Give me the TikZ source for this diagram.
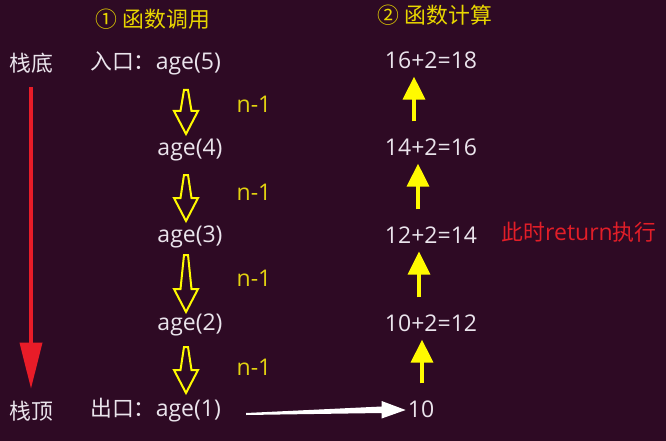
\documentclass[tikz,border=0pt]{standalone}
\usepackage{fontspec}
\setmainfont{Open Sans}
\newfontfamily\cjk[Scale=0.95]{Noto Sans CJK SC}
\usetikzlibrary{arrows.meta,calc}

\definecolor{bgpurple}{RGB}{46,10,36}
\definecolor{textwhite}{RGB}{234,228,236}
\definecolor{headyellow}{RGB}{232,214,0}
\definecolor{stepyellow}{RGB}{226,210,16}
\definecolor{arrowyellow}{RGB}{255,250,0}
\definecolor{stackred}{RGB}{232,28,40}
\definecolor{notered}{RGB}{226,30,40}

\tikzset{
	txt/.style={text=textwhite, inner sep=3pt},
	heading/.style={text=headyellow, inner sep=3pt},
	decr/.style={text=stepyellow, inner sep=3pt},
	remark/.style={text=notered, inner sep=3pt},
	uparrow/.style={draw=arrowyellow, line width=3.5pt, -{Triangle[width=22pt,length=23pt]}, shorten <=14pt, shorten >=5pt},
	stackarrow/.style={draw=stackred, line width=3.5pt, -{Triangle[width=22pt,length=46pt]}, shorten <=11pt, shorten >=9pt},
	hollow/.style={draw=arrowyellow, line width=2pt, line join=miter},
}

\begin{document}
\begin{tikzpicture}[x=1pt, y=-1pt, font=\fontsize{23}{27}\selectfont]
		\fill [bgpurple] (0,0) rectangle (666,441);

		% titles
		\node [heading] (call) at (153,19) {\cjk ① 函数调用};
		\node [heading] (calc) at (435,15) {\cjk ② 函数计算};

		% stack direction
		\node [txt] (base) at (31,63) {\cjk 栈底};
		\node [txt] (top) at (31,411) {\cjk 栈顶};
		\draw [stackarrow] (base) -- (top);

		% calls
		\node [txt, anchor=west] (a5) at (87,63) {{\cjk 入口：}age(5)};
		\node [txt] (a4) at (190,150) {age(4)};
		\node [txt] (a3) at (190,237) {age(3)};
		\node [txt] (a2) at (190,325) {age(2)};
		\node [txt, anchor=west] (a1) at (87,410) {{\cjk 出口：}age(1)};

		\foreach \t/\b in {90/134,175/221,255/312,347/393}
			\draw [hollow] (184,\t) -- (188,\t) -- (191.5,\b-23) -- (198,\b-23) -- (186,\b) -- (174,\b-23) -- (180.5,\b-23) -- cycle;

		\foreach \y [count=\i] in {104,192,278,367}
			\node [decr] (m\i) at (254,\y) {n-1};

		% results
		\node [txt] (r5) at (431,60) {16+2=18};
		\node [txt] (r4) at (431,147) {14+2=16};
		\node [txt] (r3) at (431,235) {12+2=14};
		\node [txt] (r2) at (431,323) {10+2=12};
		\node [txt] (r1) at (421,409) {10};

		\draw [uparrow] ([xshift=-17pt]r4.north) -- ([xshift=-17pt]r5.south);
		\draw [uparrow] ([xshift=-13pt]r3.north) -- ([xshift=-13pt]r4.south);
		\draw [uparrow] ([xshift=-12pt]r2.north) -- ([xshift=-12pt]r3.south);
		\draw [uparrow] ([xshift=1pt]r1.north) -- ([xshift=-9pt]r2.south);

		\node [remark] (ret) at (579,232) {{\cjk 此时}return{\cjk 执行}};

		% return path
		\fill [white] ($(a1.east)+(22,3)$) -- ($(r1.west)+(-23,-2.5)$) -- ($(r1.west)+(-23,-8)$) -- ($(r1.west)+(1,1)$)
			-- ($(r1.west)+(-23,9.5)$) -- ($(r1.west)+(-23,4)$) -- ($(a1.east)+(22,5)$) -- cycle;
\end{tikzpicture}
\end{document}
